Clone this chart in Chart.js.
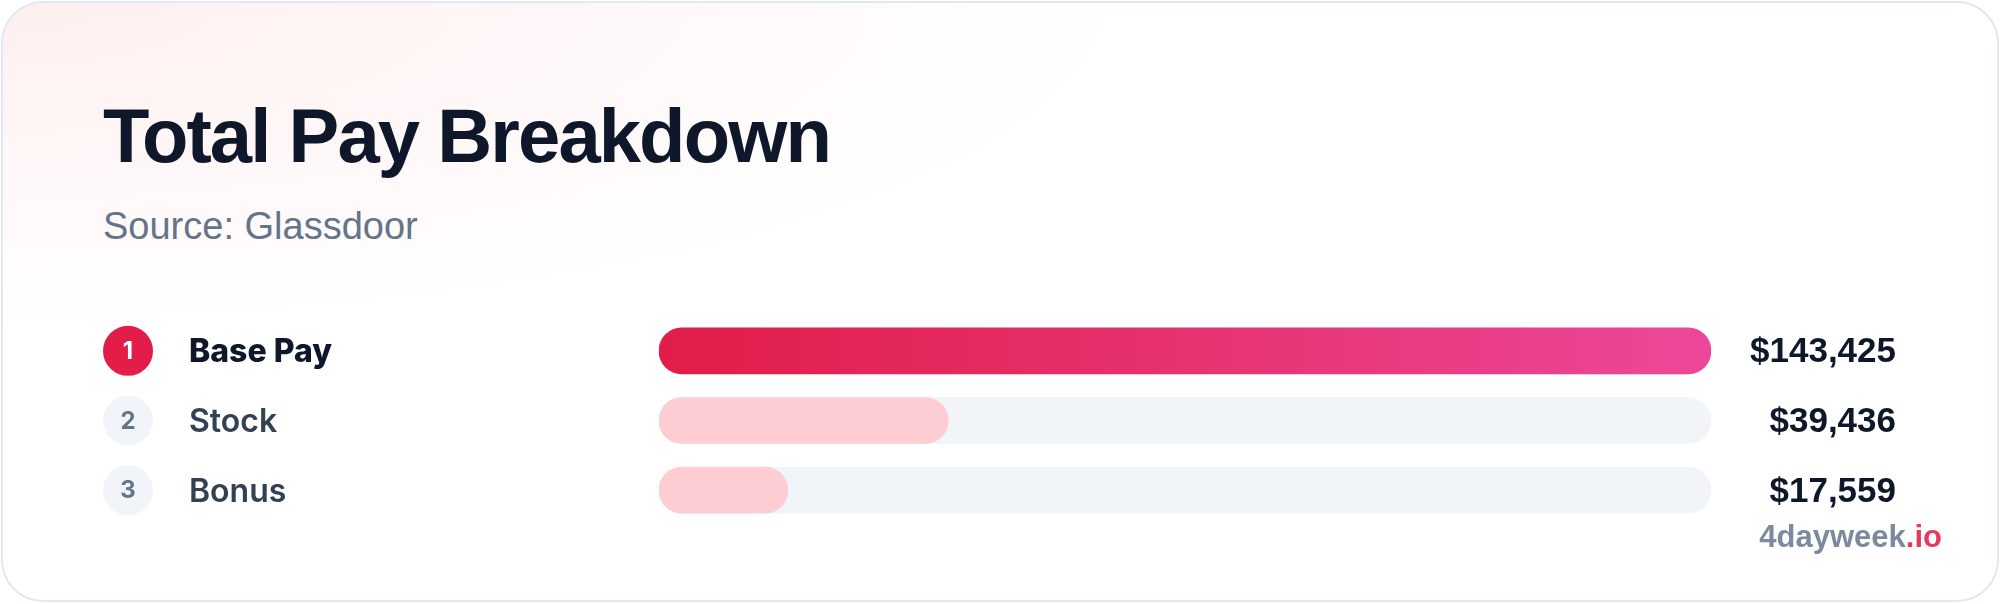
<!DOCTYPE html>
<html lang="en">
<head>
<meta charset="UTF-8">
<title>Total Pay Breakdown</title>
<script src="https://cdn.jsdelivr.net/npm/chart.js@4.4.1/dist/chart.umd.min.js"></script>
<style>
    html, body {
        margin: 0;
        padding: 0;
        width: 2000px;
        height: 604px;
        background: #ffffff;
        overflow: hidden;
        font-family: 'Liberation Sans', Arial, sans-serif;
    }

    .card {
        position: absolute;
        left: 1px;
        top: 1px;
        width: 1998px;
        height: 601px;
        box-sizing: border-box;
        border: 2px solid #e2e8f0;
        border-radius: 42px;
        background:
            radial-gradient(ellipse 1150px 330px at 0 0, rgba(254, 226, 226, 0.55), rgba(255, 255, 255, 0) 100%),
            #ffffff;
    }

    h1 {
        position: absolute;
        left: 103px;
        top: 98px;
        margin: 0;
        font-size: 76px;
        line-height: 1;
        font-weight: bold;
        letter-spacing: -0.025em;
        color: #0f172a;
    }

    .source {
        position: absolute;
        left: 103px;
        top: 207px;
        margin: 0;
        font-size: 38px;
        line-height: 1;
        color: #64748b;
    }

    .brand {
        position: absolute;
        right: 58px;
        top: 521px;
        font-size: 31px;
        line-height: 1;
        font-weight: bold;
        color: #7c8aa0;
    }

    .brand span {
        color: #e8385e;
    }

    #payChart {
        position: absolute;
        left: 0;
        top: 0;
    }
</style>
</head>
<body>

<div class="card"></div>
<h1>Total Pay Breakdown</h1>
<p class="source">Source: Glassdoor</p>
<canvas id="payChart" width="2000" height="604"></canvas>
<div class="brand">4dayweek<span>.io</span></div>

<script>
    var categories = ['Base Pay', 'Stock', 'Bonus'];
    var payValues = [143425, 39436, 17559];
    var valueLabels = ['$143,425', '$39,436', '$17,559'];

    var maxValue = Math.max.apply(null, payValues);
    var trackValues = categories.map(function () { return maxValue; });

    function barColor(ctx) {
        if (ctx.dataIndex !== 0) return '#fecdd3';
        var chart = ctx.chart;
        if (!chart.chartArea) return '#e11d48';
        var x = chart.scales.x;
        var g = chart.ctx.createLinearGradient(x.getPixelForValue(0), 0, x.getPixelForValue(payValues[0]), 0);
        g.addColorStop(0, '#e11d48');
        g.addColorStop(1, '#ec4899');
        return g;
    }

    // badges, names and amounts follow the y scale rows
    var rowLabels = {
        id: 'rowLabels',
        afterDatasetsDraw: function (chart) {
            var ctx = chart.ctx;
            var y = chart.scales.y;
            ctx.save();
            categories.forEach(function (name, i) {
                var cy = y.getPixelForValue(i);
                var first = i === 0;

                ctx.beginPath();
                ctx.arc(128, cy, 25, 0, Math.PI * 2);
                ctx.fillStyle = first ? '#e11d48' : '#f1f5f9';
                ctx.fill();

                ctx.textBaseline = 'middle';
                ctx.textAlign = 'center';
                ctx.fillStyle = first ? '#ffffff' : '#64748b';
                ctx.font = 'bold 24px Inter';
                ctx.fillText(String(i + 1), 128, cy + 1);

                ctx.textAlign = 'left';
                ctx.fillStyle = first ? '#0f172a' : '#334155';
                ctx.font = (first ? '800' : '600') + ' 32px Inter';
                ctx.fillText(name, 189, cy + 2);

                ctx.textAlign = 'right';
                ctx.fillStyle = '#0f172a';
                ctx.font = 'bold 35px "Liberation Sans"';
                ctx.fillText(valueLabels[i], 1896, cy + 2);
            });
            ctx.restore();
        }
    };

    new Chart(document.getElementById('payChart'), {
        type: 'bar',
        data: {
            labels: categories,
            datasets: [
                {
                    label: 'Pay',
                    data: payValues,
                    backgroundColor: barColor,
                    grouped: false,
                    order: 1,
                    barThickness: 46,
                    borderRadius: 23,
                    borderSkipped: false
                },
                {
                    label: 'Track',
                    data: trackValues,
                    backgroundColor: '#f1f5f9',
                    grouped: false,
                    order: 2,
                    barThickness: 46,
                    borderRadius: 23,
                    borderSkipped: false
                }
            ]
        },
        options: {
            indexAxis: 'y',
            responsive: false,
            devicePixelRatio: 1,
            animation: false,
            layout: {
                padding: { left: 659, right: 289, top: 316, bottom: 79 }
            },
            scales: {
                x: { display: false, min: 0, max: maxValue },
                y: { display: false }
            },
            plugins: {
                legend: { display: false },
                tooltip: { enabled: false }
            }
        },
        plugins: [rowLabels]
    });
</script>
</body>
</html>
